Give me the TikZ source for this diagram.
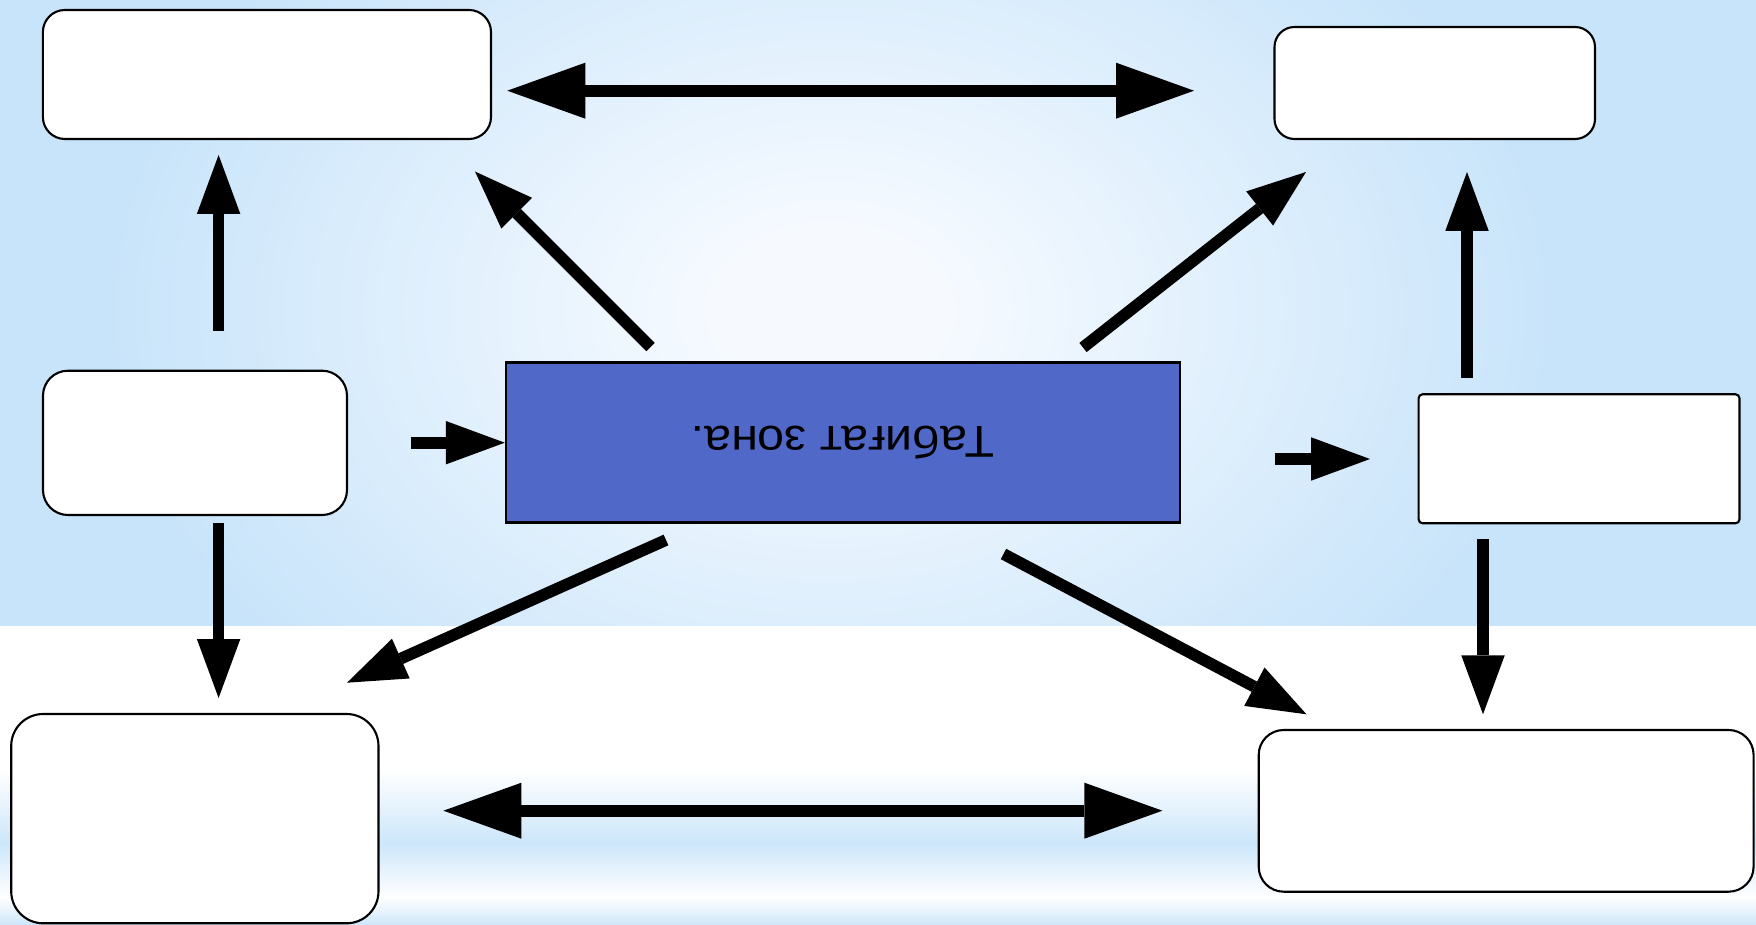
\documentclass[tikz,border=0pt]{standalone}
\usepackage{fontspec}
\setmainfont{Liberation Sans}
\usepackage{graphicx}
\usetikzlibrary{arrows.meta,fit}
\definecolor{skyblue}{RGB}{200,228,250}
\definecolor{glowwhite}{RGB}{246,250,255}
\definecolor{bandblue}{RGB}{204,230,250}
\definecolor{zoneblue}{RGB}{80,104,200}
\pgfdeclareradialshading{skyglow}{\pgfpoint{0bp}{0bp}}{color(0bp)=(glowwhite); color(2bp)=(glowwhite); color(13bp)=(skyblue); color(50bp)=(skyblue)}
\begin{document}
\begin{tikzpicture}[x=0.02cm,y=-0.02cm,
  card/.style={draw,line width=1.2pt,fill=white,inner sep=0pt},
  pointer/.style={line width=0.234cm,-{Triangle[length=1.18cm,width=0.87cm,line width=0pt]}},
  twoway/.style={line width=0.234cm,{Triangle[length=1.56cm,width=1.12cm,line width=0pt]}-{Triangle[length=1.56cm,width=1.12cm,line width=0pt]}}]
\useasboundingbox (0,0) rectangle (1756,925);
\begin{scope}
\clip (0,0) rectangle (1756,626);
\shade[shading=skyglow] (830,310) ellipse [x radius=28cm,y radius=20cm];
\end{scope}
\fill[white] (0,626) rectangle (1756,925);
\shade[top color=white,bottom color=bandblue] (0,770) rectangle (1756,843);
\shade[top color=bandblue,bottom color=white] (0,843) rectangle (1756,897);
\shade[top color=white,bottom color=bandblue] (0,897) rectangle (1756,925);
\node[card,rounded corners=0.44cm,fit={(42.9,10) (491,139)}] (tl) {};
\node[card,rounded corners=0.40cm,fit={(1274.5,27) (1595,139)}] (tr) {};
\node[card,rounded corners=0.50cm,fit={(43,370.7) (347,515)}] (ml) {};
\node[card,rounded corners=0.08cm,fit={(1418.6,394.3) (1739.5,523.3)}] (mr) {};
\node[card,rounded corners=0.64cm,fit={(11.2,714) (378.5,923.3)}] (bl) {};
\node[card,rounded corners=0.50cm,fit={(1258.7,730) (1753.6,891.7)}] (br) {};
\node[draw,line width=1.4pt,fill=zoneblue,inner sep=0pt,fit={(506,362.7) (1179.8,522.7)},
  font=\fontsize{25.4}{30}\selectfont] (zone)
  {\rotatebox{180}{\scalebox{1.085}[1]{\smash{Табиғат зона.}\rule[-2pt]{0pt}{20.4pt}}}};
\coordinate (tl-e) at (507.3,90.7);
\coordinate (tr-w) at (1194,90.7);
\coordinate (bl-e) at (443.4,810.7);
\coordinate (br-w) at (1162.4,810.7);
\coordinate (ml-n) at (218.6,331);
\coordinate (tl-s) at (218.6,155);
\coordinate (ml-s) at (218.6,522.7);
\coordinate (bl-n) at (218.6,698);
\coordinate (ml-e) at (410.7,442.7);
\coordinate (zone-e) at (1274.5,459);
\coordinate (mr-w) at (1370,459);
\coordinate (mr-n) at (1467,378);
\coordinate (tr-s) at (1467,172);
\coordinate (mr-s) at (1483,539);
\coordinate (br-n) at (1483,714.3);
\coordinate (zone-nw) at (650.5,347);
\coordinate (tl-se) at (475,171.5);
\coordinate (zone-ne) at (1083,347.5);
\coordinate (tr-sw) at (1306,172);
\coordinate (zone-sw) at (666,540);
\coordinate (bl-ne) at (347,682.7);
\coordinate (zone-se) at (1003.5,554);
\coordinate (br-nw) at (1306.5,714.3);
\draw[twoway] (tl-e) -- (tr-w);
\draw[twoway] (bl-e) -- (br-w);
\draw[pointer] (ml-n) -- (tl-s);
\draw[pointer] (ml-s) -- (bl-n);
\draw[pointer] (ml-e) -- (zone.west);
\draw[pointer] (zone-e) -- (mr-w);
\draw[pointer] (mr-n) -- (tr-s);
\draw[pointer] (mr-s) -- (br-n);
\draw[pointer] (zone-nw) -- (tl-se);
\draw[pointer] (zone-ne) -- (tr-sw);
\draw[pointer] (zone-sw) -- (bl-ne);
\draw[pointer] (zone-se) -- (br-nw);
\end{tikzpicture}
\end{document}
